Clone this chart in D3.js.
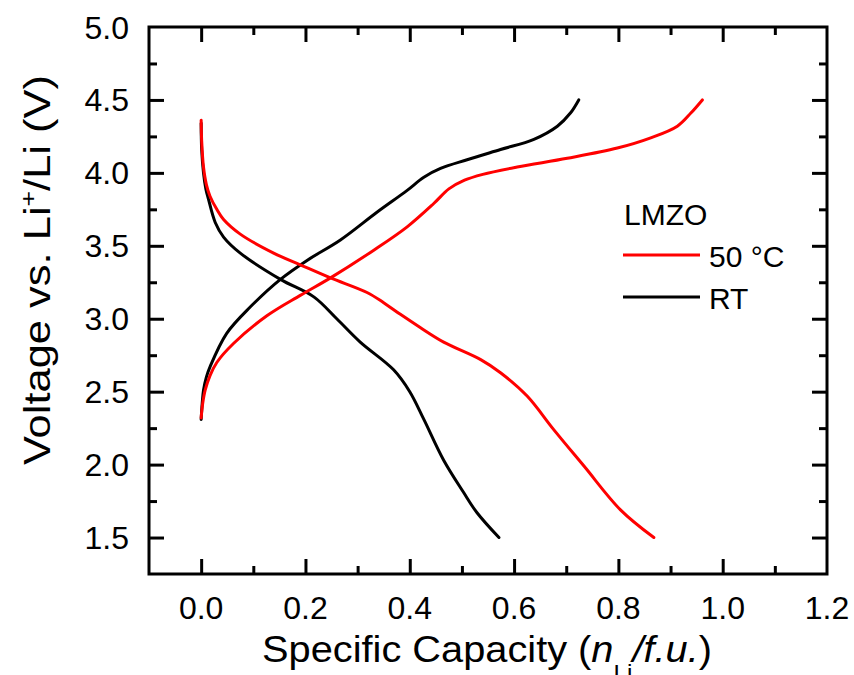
<!DOCTYPE html>
<html>
<head>
<meta charset="utf-8">
<script src="https://cdn.jsdelivr.net/npm/d3@7"></script>
<style>
  html, body { margin: 0; padding: 0; background: #fff; }
  svg { display: block; font-family: "Liberation Sans", Arial, sans-serif; }
</style>
</head>
<body>
<svg id="chart" width="854" height="675"></svg>
<script>
// Galvanostatic charge/discharge profiles of LMZO at two temperatures
// [specific capacity (n_Li per f.u.), voltage vs. Li+/Li (V)]

const discharge50C = [
  [0.000, 4.36], [0.001, 4.22], [0.0045, 4.04], [0.010, 3.92], [0.017, 3.84],
  [0.030, 3.75], [0.043, 3.68], [0.075, 3.58], [0.139, 3.45], [0.190, 3.37],
  [0.248, 3.28], [0.318, 3.18], [0.350, 3.11], [0.382, 3.03], [0.420, 2.94],
  [0.465, 2.84], [0.536, 2.72], [0.574, 2.63], [0.625, 2.47], [0.676, 2.24],
  [0.734, 1.99], [0.804, 1.69], [0.868, 1.50]
];

const charge50C = [
  [0.000, 2.32], [0.003, 2.42], [0.0077, 2.51], [0.017, 2.61], [0.030, 2.70],
  [0.062, 2.83], [0.126, 3.02], [0.190, 3.16], [0.248, 3.28], [0.331, 3.47],
  [0.395, 3.63], [0.446, 3.79], [0.475, 3.89], [0.505, 3.95], [0.540, 3.99],
  [0.606, 4.04], [0.702, 4.10], [0.798, 4.17], [0.862, 4.24], [0.913, 4.32],
  [0.939, 4.41], [0.961, 4.50]
];

const dischargeRT = [
  [0.000, 4.34], [0.001, 4.16], [0.0045, 4.00], [0.009, 3.89], [0.014, 3.82],
  [0.027, 3.66], [0.043, 3.56], [0.075, 3.45], [0.152, 3.27], [0.216, 3.15],
  [0.260, 3.00], [0.305, 2.84], [0.369, 2.65], [0.400, 2.50], [0.427, 2.31],
  [0.465, 2.03], [0.503, 1.81], [0.529, 1.67], [0.571, 1.50]
];

const chargeRT = [
  [0.000, 2.31], [0.002, 2.42], [0.0045, 2.51], [0.010, 2.60], [0.017, 2.67],
  [0.049, 2.90], [0.094, 3.08], [0.152, 3.27], [0.203, 3.40], [0.267, 3.54],
  [0.337, 3.73], [0.395, 3.88], [0.427, 3.97], [0.459, 4.03], [0.510, 4.09],
  [0.574, 4.16], [0.638, 4.23], [0.683, 4.32], [0.708, 4.41], [0.724, 4.50]
];

const seriesNames = ["50 °C", "RT"];
const seriesColors = ["#ff0000", "#000000"];
const legendTitle = "LMZO";

const xMajorTicks = [0.0, 0.2, 0.4, 0.6, 0.8, 1.0, 1.2];
const xMinorTicks = [0.1, 0.3, 0.5, 0.7, 0.9, 1.1];
const yMajorTicks = [1.5, 2.0, 2.5, 3.0, 3.5, 4.0, 4.5, 5.0];
const yMinorTicks = [1.75, 2.25, 2.75, 3.25, 3.75, 4.25, 4.75];

const svg = d3.select("#chart");
const plotLeft = 149, plotRight = 827, plotTop = 27, plotBottom = 574;

const x = d3.scaleLinear().domain([-0.1, 1.2]).range([plotLeft, plotRight]);
const y = d3.scaleLinear().domain([1.25, 5.0]).range([plotBottom, plotTop]);

const majorLen = 15, minorLen = 8;
const tickStroke = 3;

// tick marks on all four sides, all pointing inward
function drawTicks(axisFn, scale, vals, len, transform) {
  const g = svg.append("g")
    .attr("transform", transform)
    .call(axisFn(scale).tickValues(vals).tickSize(len).tickSizeOuter(0).tickFormat(""));
  g.select(".domain").remove();
  g.selectAll(".tick line").attr("stroke", "#000").attr("stroke-width", tickStroke);
  return g;
}

const xInner = xMajorTicks.filter(v => v < 1.2);
const yInner = yMajorTicks.filter(v => v < 5);
drawTicks(d3.axisTop, x, xInner, majorLen, `translate(0,${plotBottom})`);
drawTicks(d3.axisTop, x, xMinorTicks, minorLen, `translate(0,${plotBottom})`);
drawTicks(d3.axisBottom, x, xInner, majorLen, `translate(0,${plotTop})`);
drawTicks(d3.axisBottom, x, xMinorTicks, minorLen, `translate(0,${plotTop})`);
drawTicks(d3.axisRight, y, yInner, majorLen, `translate(${plotLeft},0)`);
drawTicks(d3.axisRight, y, yMinorTicks, minorLen, `translate(${plotLeft},0)`);
drawTicks(d3.axisLeft, y, yInner, majorLen, `translate(${plotRight},0)`);
drawTicks(d3.axisLeft, y, yMinorTicks, minorLen, `translate(${plotRight},0)`);

// tick labels
svg.append("g").selectAll("text").data(xMajorTicks).join("text")
  .attr("x", d => x(d)).attr("y", 619)
  .attr("text-anchor", "middle").style("font-size", "32px")
  .text(d => d3.format(".1f")(d));

svg.append("g").selectAll("text").data(yMajorTicks).join("text")
  .attr("x", 129).attr("y", d => y(d)).attr("dy", "0.36em")
  .attr("text-anchor", "end").style("font-size", "32px")
  .text(d => d3.format(".1f")(d));

// frame
svg.append("rect")
  .attr("x", plotLeft).attr("y", plotTop)
  .attr("width", plotRight - plotLeft).attr("height", plotBottom - plotTop)
  .attr("fill", "none").attr("stroke", "#000").attr("stroke-width", 3);

// curves
const line = d3.line().x(d => x(d[0])).y(d => y(d[1])).curve(d3.curveCatmullRom.alpha(0.5));
const curves = [
  { data: dischargeRT, color: seriesColors[1] },
  { data: chargeRT, color: seriesColors[1] },
  { data: discharge50C, color: seriesColors[0] },
  { data: charge50C, color: seriesColors[0] }
];
svg.append("g").selectAll("path").data(curves).join("path")
  .attr("d", d => line(d.data))
  .attr("fill", "none")
  .attr("stroke", d => d.color)
  .attr("stroke-width", 3)
  .attr("stroke-linejoin", "round")
  .attr("stroke-linecap", "round");

// legend
const lg = svg.append("g");
lg.append("text").attr("x", 624).attr("y", 225).style("font-size", "30px").text(legendTitle);
seriesNames.forEach((name, i) => {
  const ly = 255 + i * 42;
  lg.append("line").attr("x1", 623).attr("x2", 700).attr("y1", ly).attr("y2", ly)
    .attr("stroke", seriesColors[i]).attr("stroke-width", 3);
  lg.append("text").attr("x", 709).attr("y", ly + 12).style("font-size", "30px").text(name);
});

// axis titles
const yt = svg.append("text")
  .attr("transform", "translate(50,270) rotate(-90)")
  .attr("text-anchor", "middle").style("font-size", "36px")
  .attr("textLength", 390).attr("lengthAdjust", "spacingAndGlyphs");
yt.append("tspan").text("Voltage vs. Li");
yt.append("tspan").attr("dy", -14).style("font-size", "22px").text("+");
yt.append("tspan").attr("dy", 14).text("/Li (V)");

const xt = svg.append("text")
  .attr("x", 487).attr("y", 662)
  .attr("text-anchor", "middle").style("font-size", "36px")
  .attr("textLength", 450).attr("lengthAdjust", "spacingAndGlyphs");
xt.append("tspan").text("Specific Capacity (");
xt.append("tspan").style("font-style", "italic").text("n");
xt.append("tspan").attr("dy", 18).style("font-size", "22px").text("Li");
xt.append("tspan").attr("dy", -18).style("font-style", "italic").text("/f.u.");
xt.append("tspan").text(")");
</script>
</body>
</html>
